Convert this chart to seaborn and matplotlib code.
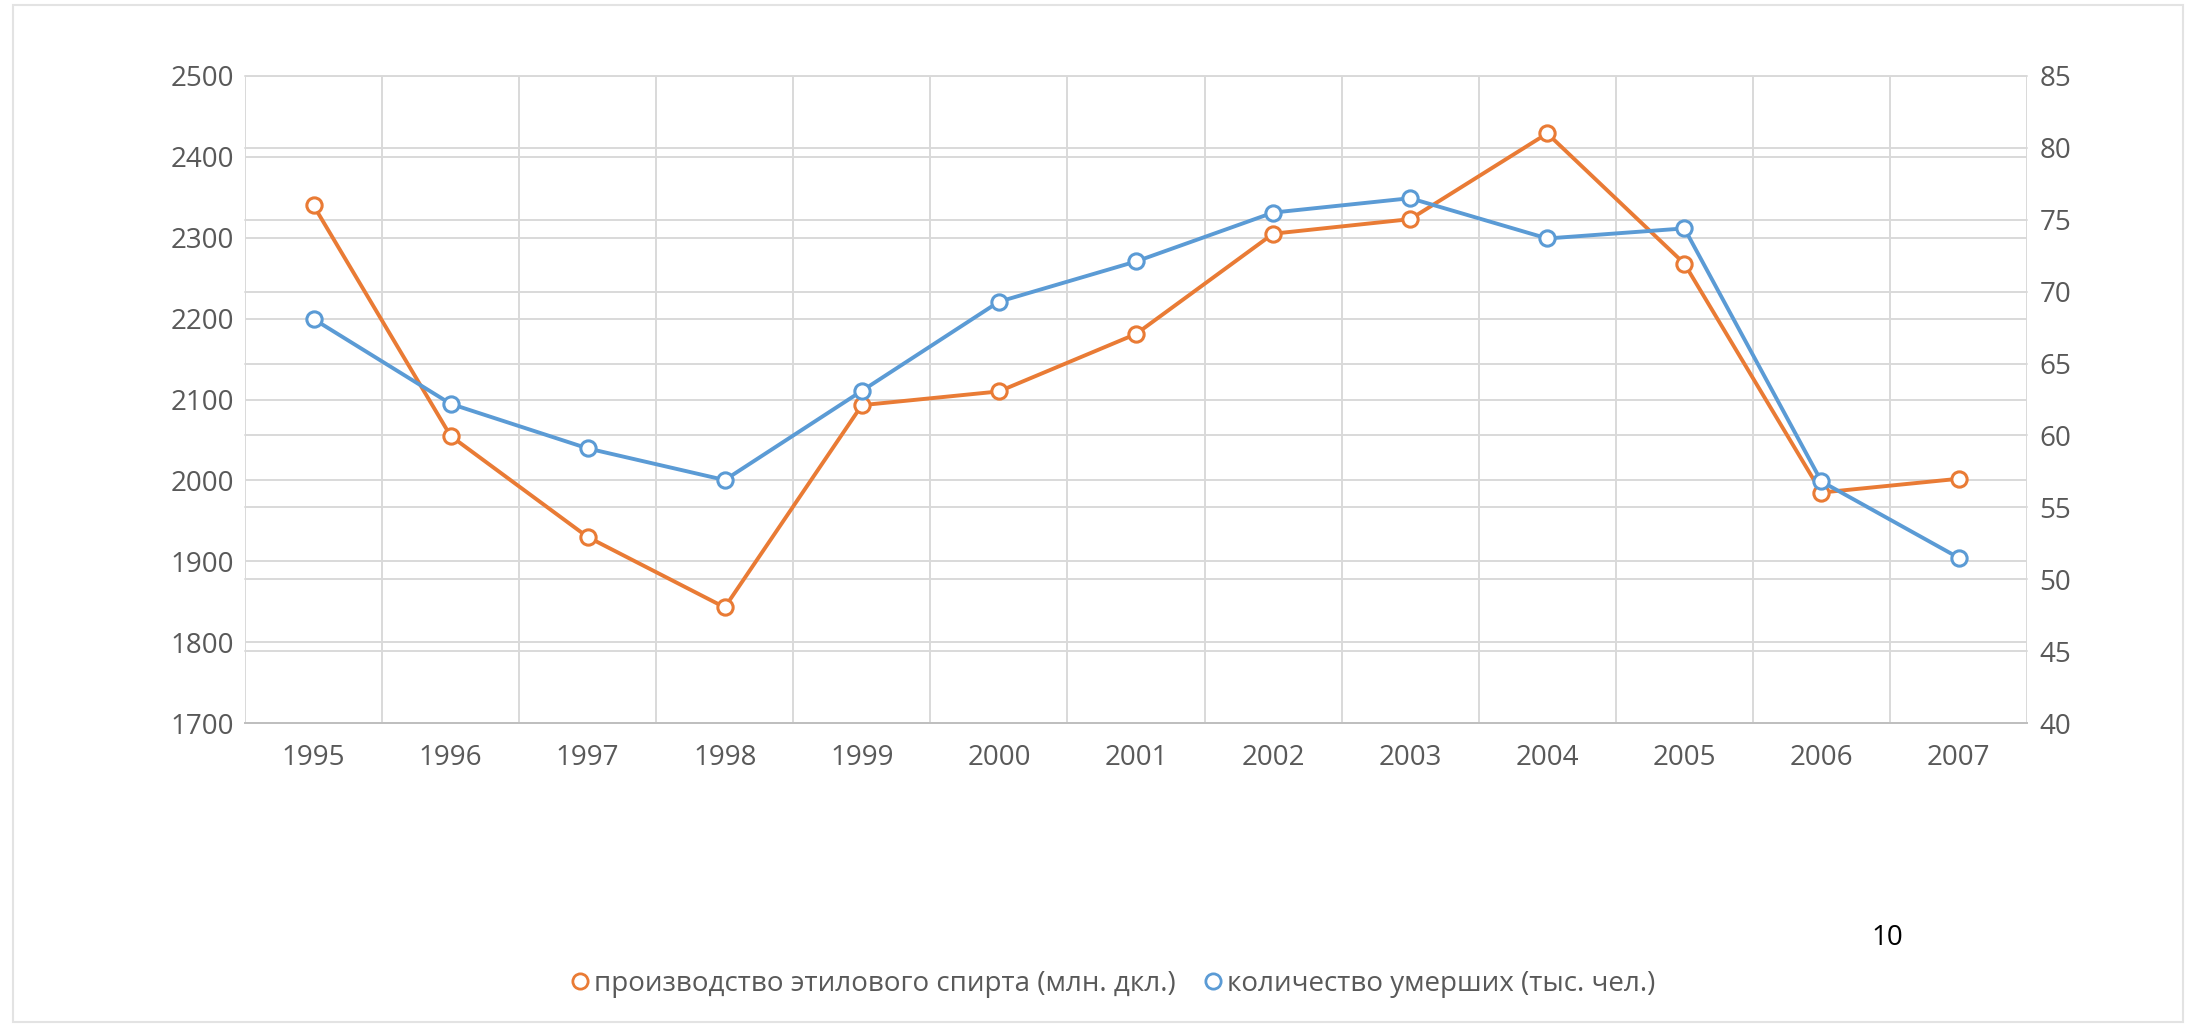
import matplotlib
matplotlib.use("Agg")
import matplotlib.pyplot as plt
from matplotlib.lines import Line2D
from matplotlib.patches import Rectangle
from matplotlib.transforms import blended_transform_factory
from matplotlib.ticker import MultipleLocator
import numpy as np
import pandas as pd
import seaborn as sns

# --- data -------------------------------------------------------------
years = [1995, 1996, 1997, 1998, 1999, 2000, 2001, 2002, 2003, 2004, 2005, 2006, 2007]
alcohol = [2340, 2055, 1930, 1843, 2093, 2110, 2181, 2305, 2323, 2429, 2268, 1985, 2002]
deaths = [68.1, 62.2, 59.1, 56.9, 63.1, 69.3, 72.1, 75.5, 76.5, 73.7, 74.4, 56.8, 51.5]
label_alcohol = "производство этилового спирта (млн. дкл.)"
label_deaths = "количество умерших (тыс. чел.)"
left_ticks = list(range(1700, 2501, 100))
right_ticks = list(range(40, 86, 5))

df = pd.DataFrame({"year": years, "alcohol": alcohol, "deaths": deaths})

# --- style ------------------------------------------------------------
sns.set_theme(style="white")
plt.rcParams["font.family"] = ["Open Sans", "DejaVu Sans"]
ORANGE = "#E97B35"
BLUE = "#5B9BD5"
GRID = "#d9d9d9"
TXT = "#595959"
FS = 20

fig = plt.figure(figsize=(21.95, 10.24), dpi=100)
ax = fig.add_axes([0.1116, 0.2939, 0.9235 - 0.1116, 0.9258 - 0.2939])
ax2 = ax.twinx()

line_kw = dict(marker="o", markersize=11, markerfacecolor="white",
               markeredgewidth=2.2, linewidth=2.8)

sns.lineplot(data=df, x="year", y="alcohol", ax=ax, color=ORANGE,
             markeredgecolor=ORANGE, zorder=3, **line_kw)
sns.lineplot(data=df, x="year", y="deaths", ax=ax2, color=BLUE,
             markeredgecolor=BLUE, zorder=3, **line_kw)

# axis ranges and ticks
ax.set_xlim(years[0] - 0.5, years[-1] + 0.5)
ax.set_ylim(left_ticks[0], left_ticks[-1])
ax2.set_ylim(right_ticks[0], right_ticks[-1])
ax.set_xticks(years)
ax.set_xticklabels([str(y) for y in years])
ax.xaxis.set_minor_locator(MultipleLocator(1, offset=0.5))
ax.set_yticks(left_ticks)
ax2.set_yticks(right_ticks)

ax.set_xlabel("")
ax.set_ylabel("")
ax2.set_ylabel("")

# gridlines: left-axis horizontals, category boundaries vertically
ax.set_axisbelow(True)
ax.grid(axis="y", which="major", color=GRID, linewidth=1.4)
ax.grid(axis="x", which="minor", color=GRID, linewidth=1.4)
ax.grid(axis="x", which="major", visible=False)
# right-axis horizontals drawn beneath both series
trans = blended_transform_factory(ax.transAxes, ax2.transData)
for t in right_ticks:
    ax.plot([0, 1], [t, t], transform=trans, color=GRID, linewidth=1.4,
            zorder=0.5, clip_on=False)

for a in (ax, ax2):
    for s in a.spines.values():
        s.set_visible(False)
ax.spines["bottom"].set_visible(True)
ax.spines["bottom"].set_color("#bfbfbf")
ax.spines["bottom"].set_linewidth(1.4)

ax.tick_params(axis="x", which="major", length=0, pad=15, labelsize=FS, labelcolor=TXT)
ax.tick_params(axis="x", which="minor", length=9, width=1.4, color=GRID, direction="out")
ax.tick_params(axis="y", length=0, pad=8, labelsize=FS, labelcolor=TXT)
ax2.tick_params(axis="y", length=0, pad=9, labelsize=FS, labelcolor=TXT)
ax.patch.set_alpha(0)

# legend at the bottom
handles = [
    Line2D([], [], color=ORANGE, marker="o", markersize=11, markerfacecolor="white",
           markeredgewidth=2, linestyle="none"),
    Line2D([], [], color=BLUE, marker="o", markersize=11, markerfacecolor="white",
           markeredgewidth=2, linestyle="none"),
]
fig.legend(handles, [label_alcohol, label_deaths], loc="center",
           bbox_to_anchor=(0.507, 0.039), ncol=2, frameon=False,
           fontsize=FS, labelcolor=TXT, handlelength=0.7, handletextpad=0.15,
           columnspacing=1.0)

fig.text(0.860, 0.084, "10", fontsize=FS, color="black", ha="center", va="center")

# chart frame
fig.patches.append(Rectangle((0.0059, 0.002), 0.9886, 0.993, transform=fig.transFigure,
                             fill=False, edgecolor="#e3e3e3", linewidth=1.5))

fig.savefig("out.png", dpi=100)
